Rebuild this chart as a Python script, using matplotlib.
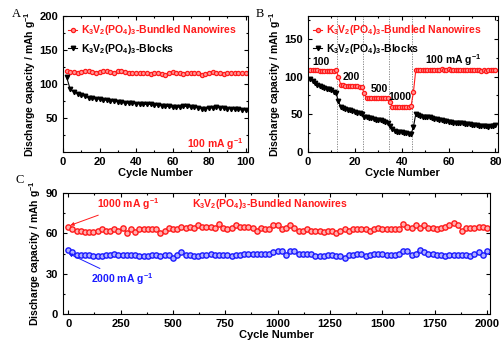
import matplotlib
matplotlib.use("Agg")
import matplotlib.pyplot as plt
import numpy as np
from matplotlib.ticker import MultipleLocator

plt.rcParams['font.family'] = ['Liberation Sans', 'DejaVu Sans']
plt.rcParams['font.weight'] = 'bold'
plt.rcParams['mathtext.fontset'] = 'custom'
plt.rcParams['mathtext.rm'] = 'Liberation Sans:bold'
plt.rcParams['mathtext.bf'] = 'Liberation Sans:bold'
plt.rcParams['mathtext.default'] = 'bf'

# ---------------- Panel A data ----------------
a_cycles = list(range(2, 101, 2))
a_nanowires = [119, 118, 118, 117, 118, 119, 119, 118, 117, 118,
               119, 119, 118, 117, 119, 119, 118, 117, 116, 117,
               117, 116, 117, 115, 116, 117, 115, 114, 116, 118,
               117, 116, 115, 116, 117, 117, 116, 114, 115, 117,
               118, 117, 116, 115, 117, 117, 117, 117, 117, 117]
a_blocks = [110, 92, 89, 86, 84, 82, 80, 79, 78, 78,
            77, 76, 75, 75, 74, 73, 72, 72, 72, 71,
            71, 70, 70, 70, 69, 69, 68, 67, 67, 66,
            66, 66, 67, 67, 66, 66, 65, 64, 64, 65,
            65, 66, 65, 65, 64, 64, 63, 63, 62, 62]

# ---------------- Panel B data ----------------
b_cycles = list(range(1, 81))
b_nanowires = [109, 108, 108, 108, 107, 107, 107, 107, 107, 107, 107, 108,
               100, 89, 89, 88, 88, 88, 87, 87, 87, 86, 86,
               78, 71, 71, 72, 72, 72, 72, 72, 72, 71, 72,
               66, 60, 60, 60, 60, 60, 60, 60, 60, 61,
               79, 108, 108, 108, 108, 109, 108, 109, 109, 109, 109, 109,
               110, 109, 109, 110, 109, 109, 109, 109, 109, 108, 109, 108, 108,
               108, 108, 108, 108, 107, 108, 107, 108, 108, 108, 108]
b_blocks = [97, 94, 91, 89, 87, 86, 85, 84, 83, 82, 80, 78,
            67, 60, 58, 57, 56, 55, 54, 53, 52, 51, 50,
            47, 46, 45, 45, 44, 43, 43, 42, 41, 40, 39,
            35, 30, 28, 27, 26, 26, 25, 25, 24, 24,
            33, 50, 49, 48, 47, 47, 46, 46, 45, 44, 44, 43, 42,
            41, 41, 40, 40, 39, 39, 38, 38, 38, 37, 37, 37, 36,
            36, 36, 35, 35, 35, 34, 33, 34, 35, 36]
b_rate_bounds = [12.5, 23.5, 34.5, 44.5]
b_rate_labels = ['100', '200', '500', '1000']

# ---------------- Panel C data ----------------
c_cycles = list(range(0, 2001, 20))
c_1000 = [65, 63, 62, 62, 61, 61, 61, 62, 63, 62,
          62, 63, 62, 64, 60, 63, 61, 63, 63, 63,
          63, 63, 60, 62, 64, 63, 63, 65, 64, 65,
          64, 66, 65, 65, 65, 64, 67, 64, 63, 64,
          66, 65, 65, 65, 64, 62, 64, 63, 63, 66,
          66, 63, 64, 66, 64, 62, 62, 63, 62, 62,
          62, 61, 62, 62, 60, 62, 63, 62, 63, 63,
          63, 63, 62, 63, 64, 63, 63, 63, 63, 63,
          67, 65, 64, 66, 64, 66, 64, 64, 63, 64,
          65, 66, 68, 66, 62, 64, 64, 64, 65, 65, 64]
c_2000 = [48, 46, 44, 44, 44, 44, 43, 43, 43, 44,
          44, 45, 44, 44, 44, 44, 44, 43, 43, 43,
          44, 44, 43, 44, 44, 42, 44, 46, 44, 44,
          43, 43, 44, 44, 45, 44, 44, 44, 44, 43,
          44, 44, 45, 45, 45, 45, 45, 45, 45, 46,
          47, 47, 44, 47, 47, 45, 45, 45, 45, 43,
          43, 43, 44, 44, 43, 43, 42, 44, 44, 45,
          45, 43, 44, 45, 45, 45, 44, 44, 44, 45,
          47, 47, 44, 45, 48, 46, 45, 45, 44, 44,
          43, 44, 44, 44, 44, 44, 43, 45, 46, 44, 47]

RED = '#ff1a1a'
BLUE = '#1a1aff'
FS = 8
LAB = 7.5

fig = plt.figure(figsize=(5.02, 3.51), dpi=100)

def style(ax):
    ax.tick_params(direction='in', which='both', top=True, right=True,
                   labelsize=FS, width=0.8)
    ax.tick_params(which='major', length=3)
    ax.tick_params(which='minor', length=1.6)
    for s in ax.spines.values():
        s.set_linewidth(0.8)
    for lab in ax.get_xticklabels() + ax.get_yticklabels():
        lab.set_fontweight('bold')

chem = r'K$_3$V$_2$(PO$_4$)$_3$'
ylab = r'Discharge capacity / mAh g$^{-1}$'

# ---------------- Panel A ----------------
axA = fig.add_axes([0.1255, 0.567, 0.369, 0.387])
axA.plot(a_cycles, a_nanowires, '-o', color=RED, lw=0.8, ms=3,
         mfc='#ff9a9a', mec=RED, mew=0.9, label=chem + '-Bundled Nanowires')
axA.plot(a_cycles, a_blocks, '-v', color='black', lw=0.8, ms=3.2,
         mfc='black', mec='black', label=chem + '-Blocks')
axA.set_xlim(0, 101.5)
axA.set_ylim(0, 200)
axA.xaxis.set_major_locator(MultipleLocator(20))
axA.xaxis.set_minor_locator(MultipleLocator(10))
axA.set_yticks([50, 100, 150, 200])
axA.set_yticks(np.arange(0, 201, 25), minor=True)
style(axA)
axA.set_xlabel('Cycle Number', fontsize=FS, fontweight='bold', labelpad=1)
axA.set_ylabel(ylab, fontsize=LAB, fontweight='bold', labelpad=1)
legA = axA.legend(loc='upper left', bbox_to_anchor=(-0.01, 1.0), frameon=False,
                  fontsize=LAB, handlelength=0.8, handletextpad=0.4,
                  labelspacing=0.45, borderaxespad=0.3, labelcolor='linecolor')
for t in legA.get_texts():
    t.set_fontweight('bold')
axA.text(99, 12, r'100 mA g$^{-1}$', color=RED, fontsize=LAB,
         fontweight='bold', ha='right', va='center')
fig.text(12 / 502, 1 - 14 / 351, 'A', fontsize=9, family='Liberation Serif',
         fontweight='normal', va='center')

# ---------------- Panel B ----------------
axB = fig.add_axes([0.6135, 0.567, 0.378, 0.387])
for xb in b_rate_bounds:
    axB.axvline(xb, color='#777777', ls=(0, (1.5, 1.5)), lw=0.6)
axB.plot(b_cycles, b_nanowires, '-o', color=RED, lw=0.8, ms=3,
         mfc='#ff9a9a', mec=RED, mew=0.9, label=chem + '-Bundled Nanowires')
axB.plot(b_cycles, b_blocks, '-v', color='black', lw=0.8, ms=3.2,
         mfc='black', mec='black', label=chem + '-Blocks')
axB.set_xlim(0, 81)
axB.set_ylim(0, 180)
axB.xaxis.set_major_locator(MultipleLocator(20))
axB.xaxis.set_minor_locator(MultipleLocator(10))
axB.yaxis.set_major_locator(MultipleLocator(50))
axB.yaxis.set_minor_locator(MultipleLocator(25))
style(axB)
axB.set_xlabel('Cycle Number', fontsize=FS, fontweight='bold', labelpad=1)
axB.set_ylabel(ylab, fontsize=LAB, fontweight='bold', labelpad=1)
legB = axB.legend(loc='upper left', bbox_to_anchor=(-0.01, 1.0), frameon=False,
                  fontsize=LAB, handlelength=0.8, handletextpad=0.4,
                  labelspacing=0.45, borderaxespad=0.3, labelcolor='linecolor')
for t in legB.get_texts():
    t.set_fontweight('bold')
rate_pos = [(2, 119), (14.7, 99), (26.8, 83), (34.3, 73)]
for lab, (xx, yy) in zip(b_rate_labels, rate_pos):
    axB.text(xx, yy, lab, fontsize=LAB, fontweight='bold', va='center')
axB.text(49.8, 122, r'100 mA g$^{-1}$', fontsize=LAB, fontweight='bold',
         va='center')
fig.text(256 / 502, 1 - 14 / 351, 'B', fontsize=9, family='Liberation Serif',
         fontweight='normal', va='center')

# ---------------- Panel C ----------------
axC = fig.add_axes([0.1255, 0.105, 0.851, 0.345])
axC.plot(c_cycles, c_1000, '-o', color=RED, lw=0.8, ms=3.8,
         mfc='#ffb0b0', mec=RED, mew=1.0)
axC.plot(c_cycles, c_2000, '-o', color=BLUE, lw=0.8, ms=3.8,
         mfc='#b0b0ff', mec=BLUE, mew=1.0)
axC.set_xlim(-25, 2015)
axC.set_ylim(0, 90)
axC.xaxis.set_major_locator(MultipleLocator(250))
axC.xaxis.set_minor_locator(MultipleLocator(125))
axC.yaxis.set_major_locator(MultipleLocator(30))
axC.yaxis.set_minor_locator(MultipleLocator(15))
style(axC)
axC.set_xlabel('Cycle Number', fontsize=FS, fontweight='bold', labelpad=1)
axC.set_ylabel(ylab, fontsize=LAB, fontweight='bold', labelpad=2)
axC.annotate(r'1000 mA g$^{-1}$', xy=(10, 66), xytext=(135, 81.5),
             color=RED, fontsize=LAB, fontweight='bold', va='center',
             arrowprops=dict(arrowstyle='-|>', color=RED, lw=0.7,
                             mutation_scale=5, shrinkA=0, shrinkB=0))
axC.annotate(r'2000 mA g$^{-1}$', xy=(2, 45), xytext=(110, 26),
             color=BLUE, fontsize=LAB, fontweight='bold', va='center',
             arrowprops=dict(arrowstyle='-|>', color=BLUE, lw=0.7,
                             mutation_scale=5, shrinkA=0, shrinkB=0))
axC.text(590, 81.5, chem + '-Bundled Nanowires', color=RED, fontsize=LAB,
         fontweight='bold', va='center')
fig.text(16 / 502, 1 - 180 / 351, 'C', fontsize=9, family='Liberation Serif',
         fontweight='normal', va='center')

fig.savefig('out.png', dpi=100)
